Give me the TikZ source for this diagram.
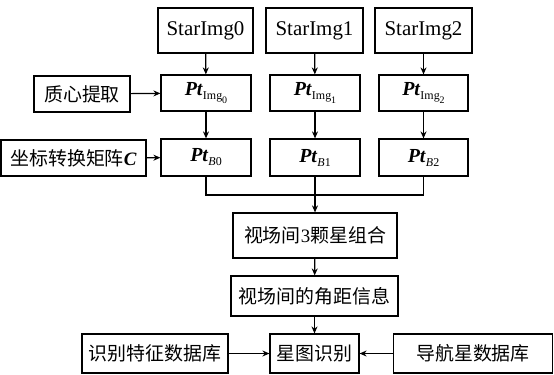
\documentclass[tikz,border=0pt]{standalone}
\usepackage{fontspec}
\setmainfont{Liberation Serif}
\newfontfamily\cjk{Noto Sans CJK SC}
\usetikzlibrary{arrows.meta}
\tikzset{
  bx/.style={draw, line width=1.2bp, inner sep=0pt, minimum height=#1, font=\fontsize{19}{19}\selectfont},
  bx/.default=36bp,
  ar/.style={line width=1.2bp, -{Stealth[length=7bp,width=6bp]}},
  ln/.style={line width=1.2bp},
}
\newcommand{\PtImg}[1]{\textbf{\textit{Pt}}{\fontsize{12}{12}\selectfont\raisebox{-4bp}{Img\raisebox{-4bp}{\fontsize{10}{10}\selectfont #1}}}}
\newcommand{\PtB}[1]{\textbf{\textit{Pt}}{\fontsize{12}{12}\selectfont\raisebox{-4bp}{\textit{B}#1}}}
\begin{document}
\begin{tikzpicture}[x=1bp,y=-1bp]
\useasboundingbox (0,0) rectangle (554,374);
% top row
\node[bx=45bp, minimum width=95bp, font=\fontsize{21}{21}\selectfont] (s0) at (205.5,30.5) {StarImg0};
\node[bx=45bp, minimum width=97bp, font=\fontsize{21}{21}\selectfont] (s1) at (314.5,30.5) {StarImg1};
\node[bx=45bp, minimum width=97bp, font=\fontsize{21}{21}\selectfont] (s2) at (423.5,30.5) {StarImg2};
% Pt img row
\node[bx=36bp, minimum width=90bp, font=\fontsize{20}{20}\selectfont] (p0) at (206,93) {\PtImg{0}};
\node[bx=36bp, minimum width=90bp, font=\fontsize{20}{20}\selectfont] (p1) at (315,93) {\PtImg{1}};
\node[bx=36bp, minimum width=89bp, font=\fontsize{20}{20}\selectfont] (p2) at (423.5,93) {\PtImg{2}};
\node[bx=36bp, minimum width=96bp] (cx) at (82,94) {\cjk 质心提取};
% Pt B row
\node[bx=37bp, minimum width=90bp, font=\fontsize{20}{20}\selectfont] (b0) at (206,157.5) {\PtB{0}};
\node[bx=37bp, minimum width=90bp, font=\fontsize{20}{20}\selectfont] (b1) at (315,157.5) {\PtB{1}};
\node[bx=37bp, minimum width=89bp, font=\fontsize{20}{20}\selectfont] (b2) at (423.5,157.5) {\PtB{2}};
\node[bx=36bp, minimum width=145bp] (cm) at (73.5,158) {{\cjk 坐标转换矩阵}\textbf{\textit{C}}};
% lower chain
\node[bx=45bp, minimum width=164bp] (z3) at (315,235.5) {{\cjk 视场间}3{\cjk 颗星组合}};
\node[bx=40bp, minimum width=167bp] (jj) at (314.5,296) {\cjk 视场间的角距信息};
\node[bx=39bp, minimum width=89bp] (xt) at (314.5,353.5) {\cjk 星图识别};
\node[bx=39bp, minimum width=146bp] (tz) at (155,353.5) {\cjk 识别特征数据库};
\node[bx=39bp, minimum width=159bp] (dh) at (473,353.5) {\cjk 导航星数据库};
% connectors
\foreach \i in {0,1,2} {
  \draw[ar] (s\i) -- (p\i);
  \draw[ar] (p\i) -- (b\i);
}
\draw[ar] (cx) -- (p0);
\draw[ar] (cm) -- (b0);
\coordinate (j) at (315,195);
\draw[ln] (b0.south) -- (b0.south |- j) -- (b2.south |- j) -- (b2.south);
\draw[ln] (b1.south) -- (b1.south |- j);
\draw[ar] (j) -- (z3.north);
\draw[ar] (z3) -- (jj);
\draw[ar] (jj) -- (xt);
\draw[ar] (tz) -- (xt);
\draw[ar] (dh) -- (xt);
\end{tikzpicture}
\end{document}
